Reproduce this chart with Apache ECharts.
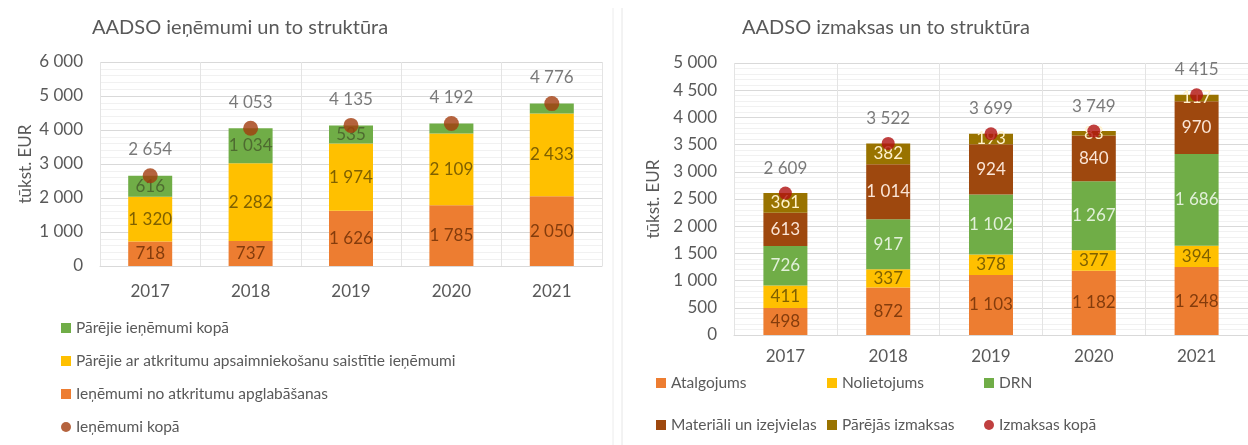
<!DOCTYPE html>
<html>
<head>
<meta charset="utf-8">
<script src="https://cdn.jsdelivr.net/npm/echarts@6/dist/echarts.min.js"></script>
<style>
  html, body { margin: 0; padding: 0; background: #fff; }
  #chart { width: 1248px; height: 445px; }
</style>
</head>
<body>
<div id="chart"></div>
<script>
// Dati
const years = ['2017', '2018', '2019', '2020', '2021']

// ieņēmumi (kreisais grafiks)
const incDisposal = [718, 737, 1626, 1785, 2050]
const incWasteOther = [1320, 2282, 1974, 2109, 2433]
const incOther = [616, 1034, 535, 298, 293]
const incTotal = [2654, 4053, 4135, 4192, 4776]

// izmaksas (labais grafiks)
const costSalary = [498, 872, 1103, 1182, 1248]
const costDepreciation = [411, 337, 378, 377, 394]
const costDRN = [726, 917, 1102, 1267, 1686]
const costMaterials = [613, 1014, 924, 840, 970]
const costOther = [361, 382, 193, 83, 117]
const costTotal = [2609, 3522, 3699, 3749, 4415]

const incTicks = { min: 0, max: 6000, interval: 1000 }
const costTicks = { min: 0, max: 5000, interval: 500 }

const FONT = 'Lato'
const GREY = '#595959'
const FS = 17

function fmt(v) {
  return String(v).replace(/\B(?=(\d{3})+(?!\d))/g, ' ')
}

const chart = echarts.init(document.getElementById('chart'))

function xAxisCfg(gridIndex, margin) {
  return {
    type: 'category',
    gridIndex: gridIndex,
    data: years,
    axisLine: { lineStyle: { color: '#d9d9d9' } },
    axisTick: { show: false },
    axisLabel: { color: GREY, fontSize: FS, fontFamily: FONT, margin: margin },
    splitLine: { show: true, lineStyle: { color: '#e4e4e4' } }
  }
}

function yAxisCfg(gridIndex, ticks, nameGap) {
  return {
    type: 'value',
    gridIndex: gridIndex,
    min: ticks.min,
    max: ticks.max,
    interval: ticks.interval,
    name: 'tūkst. EUR',
    nameLocation: 'middle',
    nameGap: nameGap,
    nameTextStyle: { color: GREY, fontSize: FS, fontFamily: FONT },
    axisLine: { show: false },
    axisTick: { show: false },
    axisLabel: { color: GREY, fontSize: FS, fontFamily: FONT, margin: 17, formatter: fmt },
    splitLine: { lineStyle: { color: '#d9d9d9' } },
    minorTick: { show: false, splitNumber: 5 },
    minorSplitLine: { show: true, lineStyle: { color: '#f1f1f1' } }
  }
}

// stabiņš ar vērtību iekšā
function bar(name, data, gridIndex, color, labelColor, minShow) {
  return {
    name: name,
    type: 'bar',
    stack: 'g' + gridIndex,
    xAxisIndex: gridIndex,
    yAxisIndex: gridIndex,
    data: data,
    barWidth: 44,
    itemStyle: { color: color },
    label: {
      show: true,
      position: 'inside',
      color: labelColor,
      fontSize: FS,
      fontFamily: FONT,
      formatter: p => (p.value >= minShow ? fmt(p.value) : '')
    },
    emphasis: { disabled: true }
  }
}

// kopsumma - punkts ar vērtību virs
function totalDots(name, data, gridIndex, color, size) {
  return {
    name: name,
    type: 'scatter',
    xAxisIndex: gridIndex,
    yAxisIndex: gridIndex,
    data: data,
    symbolSize: size,
    z: 5,
    itemStyle: { color: color },
    label: {
      show: true,
      position: 'top',
      distance: 10,
      color: GREY,
      fontSize: FS,
      fontFamily: FONT,
      formatter: p => fmt(p.value)
    }
  }
}

const legendText = { color: GREY, fontSize: 15.5, fontFamily: FONT }

chart.setOption({
  backgroundColor: '#fff',
  animation: false,
  title: [
    { text: 'AADSO ieņēmumi un to struktūra', left: 87, top: 13,
      textStyle: { color: GREY, fontSize: 20, fontWeight: 'normal', fontFamily: FONT } },
    { text: 'AADSO izmaksas un to struktūra', left: 737, top: 13,
      textStyle: { color: GREY, fontSize: 20, fontWeight: 'normal', fontFamily: FONT } }
  ],
  grid: [
    { left: 100, top: 62, width: 502, height: 204 },
    { left: 734, top: 63, width: 523, height: 272 }
  ],
  xAxis: [xAxisCfg(0, 17), xAxisCfg(1, 13)],
  yAxis: [yAxisCfg(0, incTicks, 66), yAxisCfg(1, costTicks, 72)],
  legend: [
    { orient: 'vertical', left: 61, top: 320, padding: 0, itemWidth: 10, itemHeight: 10, itemGap: 17,
      textStyle: legendText,
      data: [
        { name: 'Pārējie ieņēmumi kopā', icon: 'rect' },
        { name: 'Pārējie ar atkritumu apsaimniekošanu saistītie ieņēmumi', icon: 'rect' },
        { name: 'Ieņēmumi no atkritumu apglabāšanas', icon: 'rect' },
        { name: 'Ieņēmumi kopā', icon: 'circle' }
      ] },
    { orient: 'vertical', left: 656, top: 375, padding: 0, itemWidth: 10, itemHeight: 10, itemGap: 26,
      textStyle: legendText,
      data: [{ name: 'Atalgojums', icon: 'rect' }, { name: 'Materiāli un izejvielas', icon: 'rect' }] },
    { orient: 'vertical', left: 827, top: 375, padding: 0, itemWidth: 10, itemHeight: 10, itemGap: 26,
      textStyle: legendText,
      data: [{ name: 'Nolietojums', icon: 'rect' }, { name: 'Pārējās izmaksas', icon: 'rect' }] },
    { orient: 'vertical', left: 984, top: 375, padding: 0, itemWidth: 10, itemHeight: 10, itemGap: 26,
      textStyle: legendText,
      data: [{ name: 'DRN', icon: 'rect' }, { name: 'Izmaksas kopā', icon: 'circle' }] }
  ],
  graphic: [
    { type: 'line', shape: { x1: 613, y1: 8, x2: 613, y2: 445 }, style: { stroke: '#ececec', lineWidth: 1 } },
    { type: 'line', shape: { x1: 622, y1: 8, x2: 622, y2: 445 }, style: { stroke: '#e6e6e6', lineWidth: 1 } }
  ],
  series: [
    bar('Ieņēmumi no atkritumu apglabāšanas', incDisposal, 0, '#ED7D31', '#843C0C', 0),
    bar('Pārējie ar atkritumu apsaimniekošanu saistītie ieņēmumi', incWasteOther, 0, '#FFC000', '#7F6000', 0),
    bar('Pārējie ieņēmumi kopā', incOther, 0, '#70AD47', '#4E6B30', 400),
    totalDots('Ieņēmumi kopā', incTotal, 0, '#A23C0E', 15),

    bar('Atalgojums', costSalary, 1, '#ED7D31', '#843C0C', 0),
    bar('Nolietojums', costDepreciation, 1, '#FFC000', '#7F6000', 0),
    bar('DRN', costDRN, 1, '#70AD47', '#E2F0D9', 0),
    bar('Materiāli un izejvielas', costMaterials, 1, '#9E480E', '#FBE5D6', 0),
    bar('Pārējās izmaksas', costOther, 1, '#997300', '#FFF2CC', 0),
    totalDots('Izmaksas kopā', costTotal, 1, '#B01010', 13)
  ]
})
</script>
</body>
</html>
